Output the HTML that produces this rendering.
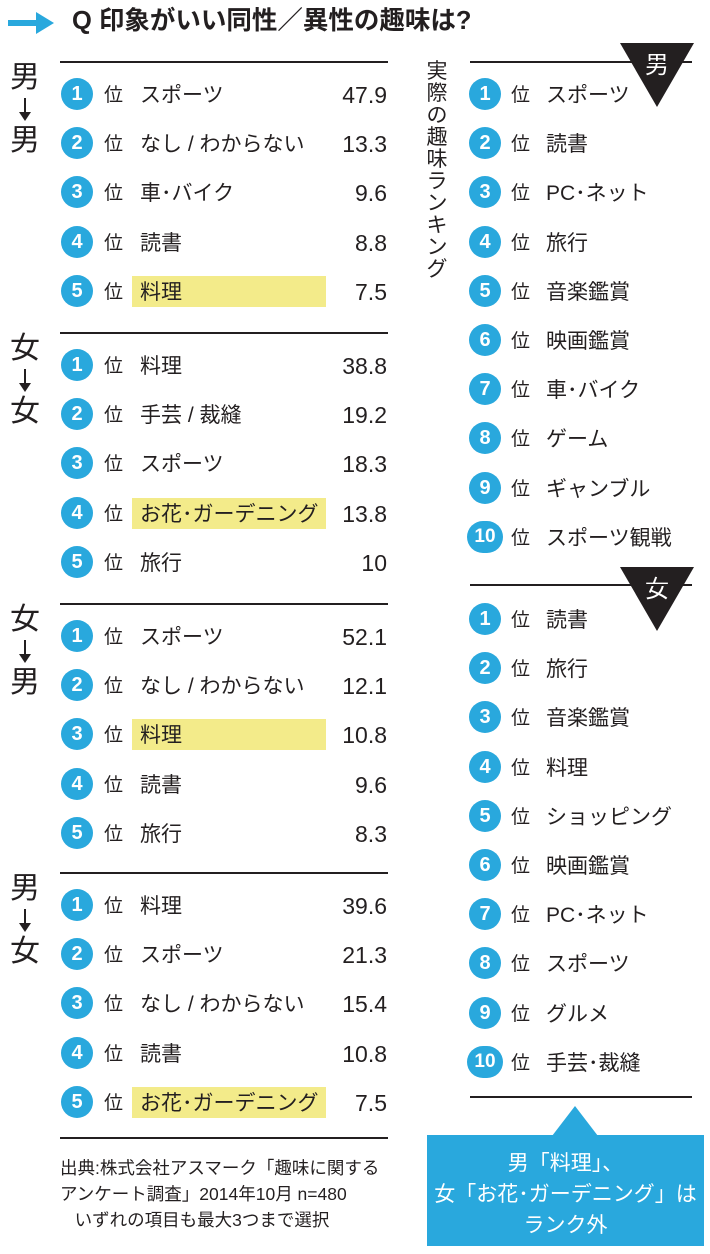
<!DOCTYPE html>
<html><head><meta charset="utf-8">
<style>
body{margin:0;background:#fff;}
#root{position:relative;width:710px;height:1254px;overflow:hidden;font-family:"Liberation Sans","Noto Sans CJK JP",sans-serif;color:#231f20;}
.a{position:absolute;}
.line{position:absolute;height:2px;background:#231f20;}
.circ{position:absolute;width:32px;height:32px;border-radius:50%;background:#29a8dd;color:#fff;font-weight:bold;font-size:20px;line-height:32px;text-align:center;}
.circ.w{width:36px;border-radius:18px;font-size:19px;}
.i{position:absolute;font-size:21px;line-height:30px;white-space:nowrap;}
.hl{position:absolute;background:#f3eb8a;height:31px;}
.val{position:absolute;font-size:23px;line-height:30px;text-align:right;width:100px;}
.big{position:absolute;font-size:30px;line-height:32px;width:34px;text-align:center;}
</style></head>
<body><div id="root">
<svg class="a" style="left:8px;top:12px" width="50" height="22"><rect x="0" y="8" width="30" height="6" fill="#29a8dd"/><polygon points="28,0 46,11 28,22" fill="#29a8dd"/></svg>
<div class="a" style="left:72px;top:4px;font-size:25.5px;font-weight:bold;line-height:34px">Q 印象がいい同性／異性の趣味は?</div>
<div class="a" style="left:426px;top:61px;width:22px;font-size:21px;line-height:22px;text-align:center">実際の趣味ランキング</div>
<svg class="a" style="left:620px;top:43px" width="74" height="66"><polygon points="0,0 74,0 37,64" fill="#231f20"/><text x="37" y="30" fill="#fff" font-size="24" text-anchor="middle" font-family="Noto Sans CJK JP, sans-serif">男</text></svg>
<svg class="a" style="left:620px;top:567px" width="74" height="66"><polygon points="0,0 74,0 37,64" fill="#231f20"/><text x="37" y="30" fill="#fff" font-size="24" text-anchor="middle" font-family="Noto Sans CJK JP, sans-serif">女</text></svg>
<div class="a" style="left:60px;top:1155px;font-size:17.5px;line-height:26px;white-space:nowrap">出典:株式会社アスマーク「趣味に関する<br>アンケート調査」2014年10月 n=480<br>&nbsp;&nbsp;&nbsp;いずれの項目も最大3つまで選択</div>
<svg class="a" style="left:427px;top:1106px" width="278" height="142"><polygon points="125,30 148,0 171,30" fill="#29a8dd"/><rect x="0" y="29" width="277" height="111" fill="#29a8dd"/></svg>
<div class="a" style="left:427px;top:1148px;width:277px;text-align:center;color:#fff;font-size:21px;line-height:31px">男「料理」、<br>女「お花･ガーデニング」は<br>ランク外</div>
</div>
<script>
const groupTitles=[["男","男"],["女","女"],["女","男"],["男","女"]];
const groupItems=[["スポーツ","なし / わからない","車･バイク","読書","料理"],["料理","手芸 / 裁縫","スポーツ","お花･ガーデニング","旅行"],["スポーツ","なし / わからない","料理","読書","旅行"],["料理","スポーツ","なし / わからない","読書","お花･ガーデニング"]];
const groupValues=[["47.9","13.3","9.6","8.8","7.5"],["38.8","19.2","18.3","13.8","10"],["52.1","12.1","10.8","9.6","8.3"],["39.6","21.3","15.4","10.8","7.5"]];
const groupHighlight=[4,3,2,4];
const menActual=["スポーツ","読書","PC･ネット","旅行","音楽鑑賞","映画鑑賞","車･バイク","ゲーム","ギャンブル","スポーツ観戦"];
const womenActual=["読書","旅行","音楽鑑賞","料理","ショッピング","映画鑑賞","PC･ネット","スポーツ","グルメ","手芸･裁縫"];
const root=document.getElementById('root');
function mk(cls,css,txt){const e=document.createElement('div');e.className=cls;e.style.cssText=css;if(txt!=null)e.textContent=txt;root.appendChild(e);return e;}
const gTop=[62,333,604,873],rowH=49.2;
gTop.forEach((t,g)=>{
  let l=mk('line',`left:60px;top:${t-1}px;width:328px`);
  
  
  let b1=mk('big',`left:8px;top:${t}px`,groupTitles[g][0]);
  
  
  let ar=mk('a',`left:24px;top:${t+36}px;width:2px;height:16px;background:#231f20`);
  
  
  let ah=mk('a',`left:19px;top:${t+50}px;width:0;height:0;border-left:6px solid transparent;border-right:6px solid transparent;border-top:9px solid #231f20`);
  
  
  let b2=mk('big',`left:8px;top:${t+63}px`,groupTitles[g][1]);
  
  
  groupItems[g].forEach((it,i)=>{
    const cy=t+32+i*rowH;
    if(groupHighlight[g]===i){let h=mk('hl',`left:132px;top:${cy-15}px;width:194px`);
      
      }
    let c=mk('circ',`left:61px;top:${cy-16}px`,String(i+1));
    
    
    let p=mk('i',`left:104px;top:${cy-13}px;font-size:19px`,'位');
    
    
    let n=mk('i',`left:140px;top:${cy-13}px`,it);
    
    
    let v=mk('val',`left:287px;top:${cy-14}px`,groupValues[g][i]);
    
    
  });
});
let lb=mk('line',`left:60px;top:1137px;width:328px`);


[[62,menActual,94],[585,womenActual,619]].forEach(([lt,arr,c0])=>{
  let l=mk('line',`left:470px;top:${lt-1}px;width:222px`);
  
  
  arr.forEach((it,i)=>{
    const cy=c0+i*49.2;
    let c=mk(i===9?'circ w':'circ',`left:${i===9?467:469}px;top:${cy-16}px`,String(i+1));
    
    
    let p=mk('i',`left:511px;top:${cy-13}px;font-size:19px`,'位');
    
    
    let n=mk('i',`left:546px;top:${cy-13}px`,it);
    
    
  });
});
let lr=mk('line',`left:470px;top:1096px;width:222px`);


</script>
</body></html>
